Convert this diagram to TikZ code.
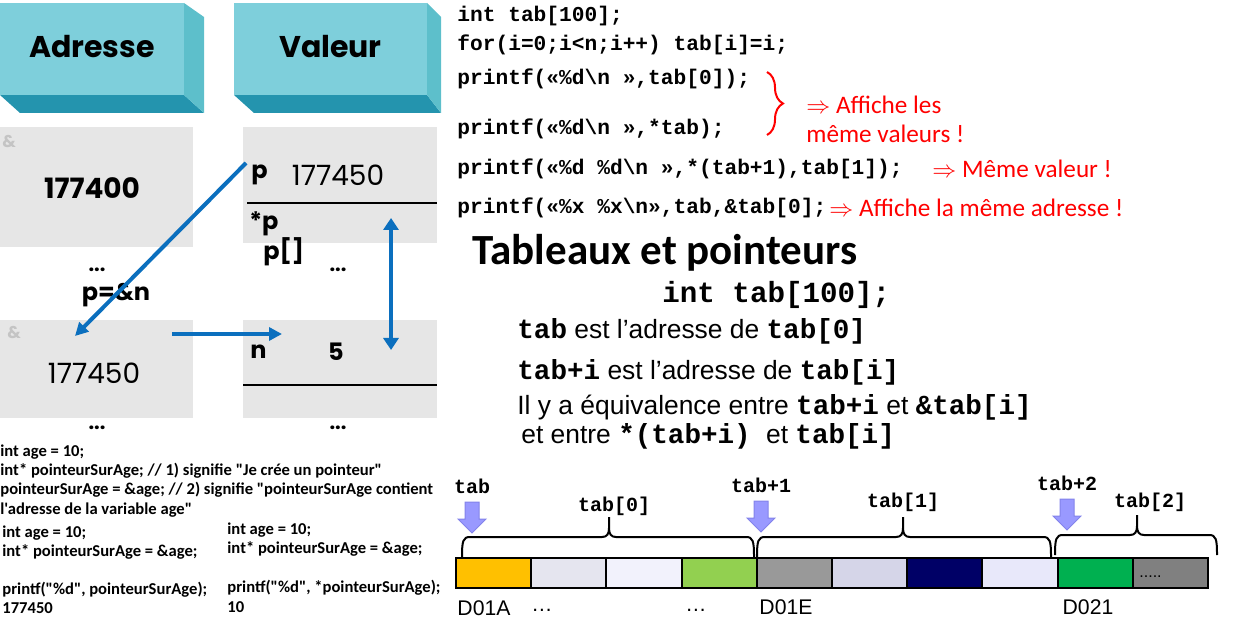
\documentclass[tikz,border=0pt]{standalone}
\usepackage{fontspec}
\setmainfont{Liberation Sans}
\setmonofont{Liberation Mono}
\newfontfamily\montfont{Poppins}
\newfontfamily\calfont{Carlito}
\usetikzlibrary{arrows.meta,positioning,calc,decorations.pathreplacing}
\definecolor{capfront}{HTML}{7ECFDB}
\definecolor{capside}{HTML}{5DBFCB}
\definecolor{capbase}{HTML}{2494AE}
\definecolor{memgray}{HTML}{E6E6E6}
\definecolor{ampgray}{HTML}{C4C4C4}
\definecolor{ptrblue}{HTML}{0B6FBE}
\definecolor{markfill}{HTML}{9999FF}
\definecolor{markline}{HTML}{8383EA}
\definecolor{slotA}{HTML}{FFC000}
\definecolor{slotB}{HTML}{E5E5EF}
\definecolor{slotC}{HTML}{F2F2FC}
\definecolor{slotD}{HTML}{92D050}
\definecolor{slotE}{HTML}{999999}
\definecolor{slotF}{HTML}{D5D5E8}
\definecolor{slotG}{HTML}{000066}
\definecolor{slotH}{HTML}{E8E8FA}
\definecolor{slotI}{HTML}{00B050}
\definecolor{slotJ}{HTML}{808080}
\tikzset{
  head/.style={font=\montfont\bfseries\fontsize{15}{18}\selectfont, inner sep=0pt},
  memcell/.style={fill=memgray, anchor=north west, inner sep=0pt, outer sep=0pt},
  addr/.style={font=\montfont\fontsize{14}{16}\selectfont, inner sep=0pt},
  var/.style={font=\montfont\bfseries\fontsize{12}{13}\selectfont, inner sep=0pt, anchor=west},
  amp/.style={font=\montfont\bfseries\fontsize{8.5}{9}\selectfont, text=ampgray, inner sep=0pt, anchor=west},
  dots/.style={font=\montfont\bfseries\fontsize{10}{10}\selectfont, inner sep=0pt},
  ptr/.style={-{Triangle[length=6.5pt,width=6.5pt]}, line width=2pt, ptrblue},
  biptr/.style={{Triangle[length=6pt,width=7.5pt]}-{Triangle[length=6pt,width=7.5pt]}, line width=2pt, ptrblue},
  code/.style={font=\ttfamily\bfseries\fontsize{10.6}{12}\selectfont, anchor=west, inner sep=0pt},
  remark/.style={font=\calfont\fontsize{12.6}{15}\selectfont, text=red, anchor=west, inner sep=0pt},
  snippet/.style={font=\calfont\bfseries\fontsize{8.3}{10}\selectfont, anchor=west, inner sep=0pt},
  fact/.style={font=\fontsize{13.2}{15}\selectfont, anchor=west, inner sep=0pt},
  slot/.style={draw=black, line width=1pt, minimum width=37.6pt, minimum height=15pt, inner sep=0pt, anchor=north west},
  addrlbl/.style={font=\fontsize{10.6}{12}\selectfont, inner sep=0pt},
  tablbl/.style={font=\ttfamily\bfseries\fontsize{10}{12}\selectfont, inner sep=0pt},
  marker/.style={fill=markfill, draw=markline, line width=0.5pt, line join=miter},
  curly/.style={line width=1pt, black},
}
\newcommand{\tabcode}[1]{{\ttfamily\bfseries\fontsize{13.8}{15}\selectfont #1}}
\newcommand{\capblock}[5]{%
  \fill[capbase] (#1,95) -- ({#1+#2},95) -- ({#1+#2+#3},113) -- ({#1+20},113) -- cycle;
  \fill[capside] ({#1+#2},3) -- ({#1+#2+#3},17) -- ({#1+#2+#3},113) -- ({#1+#2},95) -- cycle;
  \fill[capfront] (#1,3) rectangle ({#1+#2},95);
  \node[head] (#5) at ({#1+#2/2},47) {#4};}
\newcommand{\tabbrace}[4]{%
  \draw[curly] (#1,#4) .. controls (#1,{#4-16}) and ({#1+1},{#4-20}) .. ({#1+8},{#4-20})
    -- ({#3-7},{#4-20}) .. controls ({#3-2},{#4-20}) and (#3,{#4-23}) .. (#3,{#4-29}) -- (#3,{#4-40})
    (#3,{#4-29}) .. controls (#3,{#4-23}) and ({#3+2},{#4-20}) .. ({#3+7},{#4-20})
    -- ({#2-8},{#4-20}) .. controls ({#2-1},{#4-20}) and (#2,{#4-16}) .. (#2,#4);}
\newcommand{\markarrow}[3]{%
  \draw[marker] ({#1-7},#2) -- ({#1+7},#2) -- ({#1+7},{#2+17}) -- ({#1+14},{#2+17})
    -- (#1,{#2+31}) -- ({#1-14},{#2+17}) -- ({#1-7},{#2+17}) -- cycle;
  \coordinate (#3) at (#1,#2);}

\begin{document}
\begin{tikzpicture}[x=0.5pt,y=-0.5pt]
  \useasboundingbox (0,0) rectangle (1240,624);
  \capblock{0}{184}{20}{Adresse}{hdaddr}
  \capblock{234}{193}{14}{Valeur}{hdval}

  \node[memcell, minimum width=96.5pt, minimum height=60pt] (acell1) at (0,127) {};
  \node[memcell, minimum width=97pt, minimum height=58pt] (vcell1) at (243,127) {};
  \node[memcell, minimum width=96.5pt, minimum height=49pt] (acell2) at (0,320) {};
  \node[memcell, minimum width=97pt, minimum height=49pt] (vcell2) at (243,320) {};
  \draw[line width=0.75pt] (247,203) -- (437,203);
  \draw[line width=0.75pt] (243,385) -- (437,385);

  \node[amp] (amp1) at (2,142) {\&};
  \node[addr, font=\montfont\bfseries\fontsize{14}{16}\selectfont] (oldaddr) at (92,188) {177400};
  \node[var] (pvar) at (251,175) {p};
  \node[addr] (pval) at (338,175) {177450};
  \node[var] (pstar) at (249,224) {*p};
  \node[var] (pidx) at (263,252) {p[]};
  \node[dots] (gapA) at (97,270) {...};
  \node[dots] (gapV) at (338,270) {...};
  \node[var, anchor=center] (assign) at (116,295) {p=\&n};
  \node[amp] (amp2) at (7,333) {\&};
  \node[addr] (naddr) at (94,373) {177450};
  \node[var] (nvar) at (250,352) {n};
  \node[var, anchor=center] (nval) at (336,352) {5};
  \node[dots] (endA) at (97,428) {...};
  \node[dots] (endV) at (338,428) {...};

  \coordinate (ptail) at (246,163);
  \coordinate (ntip) at (75,336);
  \coordinate (rtail) at (172,334);
  \coordinate (rtip) at (282,334);
  \coordinate (utop) at (391,218);
  \coordinate (ubot) at (391,350);
  \draw[ptr] (ptail) -- (ntip);
  \draw[ptr] (rtail) -- (rtip);
  \draw[biptr] (utop) -- (ubot);

  \node[snippet] (sn1) at (0,452) {int age = 10;};
  \node[snippet] (sn2) at (0,471) {int* pointeurSurAge; // 1) signifie "Je crée un pointeur"};
  \node[snippet] (sn3) at (0,490) {pointeurSurAge = \&age; // 2) signifie "pointeurSurAge contient};
  \node[snippet] (sn4) at (0,510) {l'adresse de la variable age"};
  \node[snippet] (snL1) at (2,533) {int age = 10;};
  \node[snippet] (snL2) at (2,552) {int* pointeurSurAge = \&age;};
  \node[snippet] (snL3) at (2,590) {printf("\%d", pointeurSurAge);};
  \node[snippet] (snL4) at (2,608) {177450};
  \node[snippet] (snR1) at (227,530) {int age = 10;};
  \node[snippet] (snR2) at (227,549) {int* pointeurSurAge = \&age;};
  \node[snippet] (snR3) at (227,588) {printf("\%d", *pointeurSurAge);};
  \node[snippet] (snR4) at (227,607) {10};

  \node[code] (ln1) at (457,16) {int tab[100];};
  \node[code] (ln2) at (457,45) {for(i=0;i<n;i++) tab[i]=i;};
  \node[code] (ln3) at (457,79) {printf(«\%d\textbackslash n »,tab[0]);};
  \node[code] (ln4) at (457,129) {printf(«\%d\textbackslash n »,*tab);};
  \node[code] (ln5) at (457,169) {printf(«\%d \%d\textbackslash n »,*(tab+1),tab[1]);};
  \node[code] (ln6) at (457,208) {printf(«\%x \%x\textbackslash n»,tab,\&tab[0];};
  \draw[red, line width=1pt, decorate, decoration={brace, amplitude=8pt}] (767,72) -- (767,135);
  \node[remark] (rk1) at (806,105) {$\Rightarrow$ Affiche les};
  \node[remark] (rk1b) at (806,134) {même valeurs !};
  \node[remark] (rk2) at (932,169) {$\Rightarrow$ Même valeur !};
  \node[remark] (rk3) at (829,208) {$\Rightarrow$ Affiche la même adresse !};

  \node[font=\calfont\bfseries\fontsize{21.5}{24}\selectfont, anchor=west, inner sep=0pt] (title) at (472,253) {Tableaux et pointeurs};
  \node[code, font=\ttfamily\bfseries\fontsize{14.6}{16}\selectfont] (decl) at (662,295) {int tab[100];};
  \node[fact] (fc1) at (517,331) {\tabcode{tab} est l’adresse de \tabcode{tab[0]}};
  \node[fact] (fc2) at (517,372) {\tabcode{tab+i} est l’adresse de \tabcode{tab[i]}};
  \node[fact] (fc3) at (517,407) {Il y a équivalence entre \tabcode{tab+i} et \tabcode{\&tab[i]}};
  \node[fact] (fc4) at (521,436) {et entre \tabcode{*(tab+i)}\hspace{4pt} et \tabcode{tab[i]}};

  \foreach \col [count=\i from 0] in {slotA,slotB,slotC,slotD,slotE,slotF,slotG,slotH,slotI,slotJ}
    \node[slot, fill=\col] (m\i) at ({455+75.2*\i},557) {};
  \node[font=\fontsize{8}{9}\selectfont, anchor=west, inner sep=0pt] (more) at (1139,577) {.....};
  \tabbrace{462}{754}{609}{557}
  \tabbrace{757}{1051}{903}{557}
  \tabbrace{1055}{1217}{1137}{555}
  \node[tablbl] (lb0) at (614,506) {tab[0]};
  \node[tablbl] (lb1) at (903,502) {tab[1]};
  \node[tablbl] (lb2) at (1150,502) {tab[2]};
  \markarrow{472}{502}{mk0}
  \markarrow{761}{501}{mk1}
  \markarrow{1067}{499}{mk2}
  \node[tablbl, above=4pt of mk0] (pt0) {tab};
  \node[tablbl, above=4pt of mk1] (pt1) {tab+1};
  \node[tablbl, above=4pt of mk2] (pt2) {tab+2};
  \node[addrlbl] (ad0) at (484,608) {D01A};
  \node[addrlbl] (ad1) at (542,610) {…};
  \node[addrlbl] (ad2) at (696,610) {…};
  \node[addrlbl] (ad3) at (786,607) {D01E};
  \node[addrlbl] (ad4) at (1088,607) {D021};
\end{tikzpicture}
\end{document}
